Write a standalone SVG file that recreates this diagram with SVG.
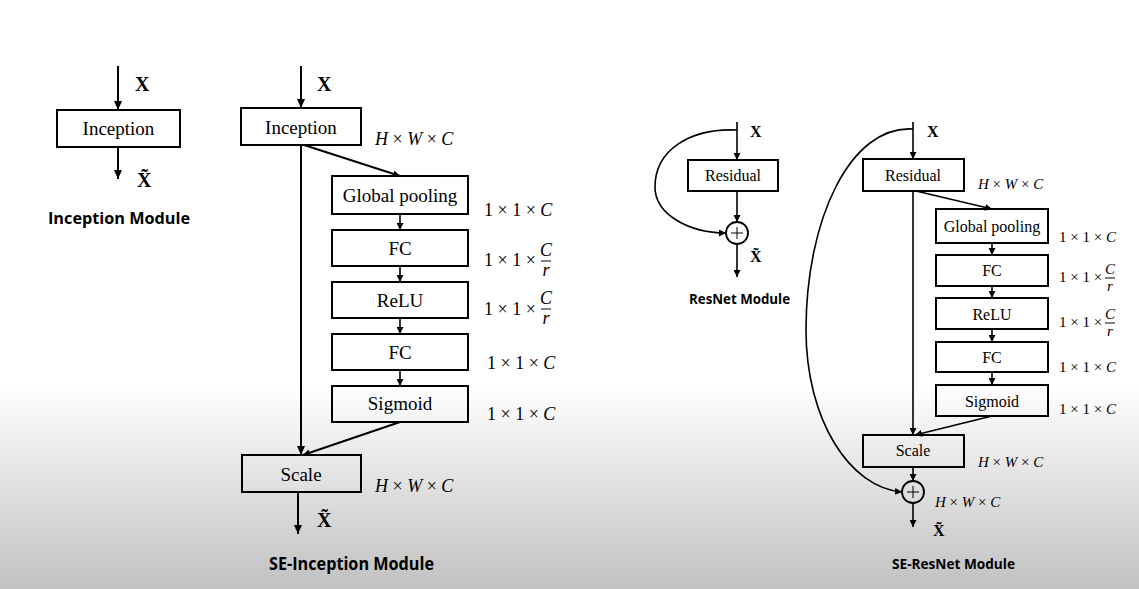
<svg xmlns="http://www.w3.org/2000/svg" width="1139" height="589" viewBox="0 0 1139 589">
<defs>
<linearGradient id="bg" x1="0" y1="385" x2="0" y2="589" gradientUnits="userSpaceOnUse">
<stop offset="0" stop-color="#ffffff"/>
<stop offset="1" stop-color="#c1c1c1"/>
</linearGradient>
<marker id="ah" markerWidth="10" markerHeight="8" refX="9" refY="4" orient="auto" markerUnits="userSpaceOnUse">
<path d="M0,0 L9,4 L0,8 z" fill="#000"/>
</marker>
<marker id="as" markerWidth="8" markerHeight="7" refX="7" refY="3.5" orient="auto" markerUnits="userSpaceOnUse">
<path d="M0,0 L7,3.5 L0,7 z" fill="#000"/>
</marker>
<style>
.box{fill:none;stroke:#000;stroke-width:2}
.ln{fill:none;stroke:#000;stroke-width:2}
.lns{fill:none;stroke:#000;stroke-width:1.6}
.lbl{font-family:"Liberation Serif",serif;fill:#000;text-anchor:middle}
.big{font-size:19px}
.sm{font-size:16px}
.dim{font-family:"Liberation Serif",serif;fill:#000}
.d18{font-size:18px}
.d15{font-size:15px}
.it{font-style:italic}
.bx{font-family:"Liberation Serif",serif;font-weight:bold;fill:#000}
.title{font-family:"Open Sans","Liberation Sans",sans-serif;font-weight:bold;fill:#000}
</style>
</defs>
<rect x="0" y="0" width="1139" height="589" fill="url(#bg)"/>

<!-- Inception Module -->
<g id="inception">
<rect class="box" x="57" y="110" width="123" height="37"/>
<text class="lbl big" x="118.5" y="135">Inception</text>
</g>
<g id="inception-labels">
<text class="bx" x="135" y="91" font-size="20">X</text>
<text class="bx" x="137" y="187" font-size="20">X̃</text>
<text class="title" x="48" y="224" font-size="16" textLength="142" lengthAdjust="spacingAndGlyphs">Inception Module</text>
</g>

<!-- SE-Inception Module -->
<g id="se-inception">
<rect class="box" x="241" y="108" width="120" height="37"/>
<text class="lbl big" x="301" y="134">Inception</text>
</g>
<g id="se-gp">
<rect class="box" x="332" y="176" width="136" height="38"/>
<text class="lbl big" x="400" y="202">Global pooling</text>
</g>
<g id="se-fc1">
<rect class="box" x="332" y="230" width="136" height="36"/>
<text class="lbl big" x="400" y="255">FC</text>
</g>
<g id="se-relu">
<rect class="box" x="332" y="282" width="136" height="36"/>
<text class="lbl big" x="400" y="307">ReLU</text>
</g>
<g id="se-fc2">
<rect class="box" x="332" y="334" width="136" height="36"/>
<text class="lbl big" x="400" y="359">FC</text>
</g>
<g id="se-sigmoid">
<rect class="box" x="332" y="386" width="136" height="36"/>
<text class="lbl big" x="400" y="410">Sigmoid</text>
</g>
<g id="se-scale">
<rect class="box" x="242" y="455" width="119" height="37"/>
<text class="lbl big" x="301" y="481">Scale</text>
</g>
<g id="se-inception-labels">
<text class="bx" x="317" y="91" font-size="20">X</text>
<text class="bx" x="317" y="527" font-size="20">X̃</text>
<text class="dim d18" x="375" y="145"><tspan class="it">H</tspan> × <tspan class="it">W</tspan> × <tspan class="it">C</tspan></text>
<text class="dim d18" x="484" y="216">1 × 1 × <tspan class="it">C</tspan></text>
<text class="dim d18" x="484" y="266">1 × 1 ×</text>
<text class="dim d18 it" x="546" y="256" text-anchor="middle">C</text>
<line x1="541" y1="261" x2="551" y2="261" stroke="#000" stroke-width="1"/>
<text class="dim d18 it" x="546" y="276" text-anchor="middle">r</text>
<text class="dim d18" x="484" y="315">1 × 1 ×</text>
<text class="dim d18 it" x="546" y="304" text-anchor="middle">C</text>
<line x1="541" y1="309" x2="551" y2="309" stroke="#000" stroke-width="1"/>
<text class="dim d18 it" x="546" y="324" text-anchor="middle">r</text>
<text class="dim d18" x="487" y="369">1 × 1 × <tspan class="it">C</tspan></text>
<text class="dim d18" x="487" y="420">1 × 1 × <tspan class="it">C</tspan></text>
<text class="dim d18" x="375" y="492"><tspan class="it">H</tspan> × <tspan class="it">W</tspan> × <tspan class="it">C</tspan></text>
<text class="title" x="269" y="570" font-size="17" textLength="165" lengthAdjust="spacingAndGlyphs">SE-Inception Module</text>
</g>

<!-- ResNet Module -->
<g id="resnet-residual">
<rect class="box" x="688" y="160" width="90" height="31"/>
<text class="lbl sm" x="733" y="181">Residual</text>
</g>
<g id="resnet-add">
<circle cx="737" cy="233" r="11" fill="none" stroke="#000" stroke-width="1.8"/>
<line x1="731" y1="233" x2="743" y2="233" stroke="#000" stroke-width="1"/>
<line x1="737" y1="227" x2="737" y2="239" stroke="#000" stroke-width="1"/>
</g>
<g id="resnet-labels">
<text class="bx" x="750" y="137" font-size="16">X</text>
<text class="bx" x="750" y="262" font-size="16">X̃</text>
<text class="title" x="689" y="304" font-size="14" textLength="101" lengthAdjust="spacingAndGlyphs">ResNet Module</text>
</g>

<!-- SE-ResNet Module -->
<g id="ser-residual">
<rect class="box" x="863" y="159" width="101" height="32"/>
<text class="lbl sm" x="913" y="181">Residual</text>
</g>
<g id="ser-gp">
<rect class="box" x="936" y="209" width="112" height="34"/>
<text class="lbl sm" x="992" y="232">Global pooling</text>
</g>
<g id="ser-fc1">
<rect class="box" x="936" y="255" width="112" height="31"/>
<text class="lbl sm" x="992" y="276">FC</text>
</g>
<g id="ser-relu">
<rect class="box" x="936" y="298" width="112" height="31"/>
<text class="lbl sm" x="992" y="320">ReLU</text>
</g>
<g id="ser-fc2">
<rect class="box" x="936" y="342" width="112" height="30"/>
<text class="lbl sm" x="992" y="363">FC</text>
</g>
<g id="ser-sigmoid">
<rect class="box" x="936" y="385" width="112" height="31"/>
<text class="lbl sm" x="992" y="407">Sigmoid</text>
</g>
<g id="ser-scale">
<rect class="box" x="863" y="435" width="101" height="32"/>
<text class="lbl sm" x="913" y="456">Scale</text>
</g>
<g id="ser-add">
<circle cx="913" cy="492" r="11" fill="none" stroke="#000" stroke-width="1.8"/>
<line x1="907" y1="492" x2="919" y2="492" stroke="#000" stroke-width="1"/>
<line x1="913" y1="486" x2="913" y2="498" stroke="#000" stroke-width="1"/>
</g>
<g id="ser-labels">
<text class="bx" x="927" y="137" font-size="16">X</text>
<text class="bx" x="933" y="536" font-size="16">X̃</text>
<text class="dim d15" x="978" y="189"><tspan class="it">H</tspan> × <tspan class="it">W</tspan> × <tspan class="it">C</tspan></text>
<text class="dim d15" x="1059" y="242">1 × 1 × <tspan class="it">C</tspan></text>
<text class="dim d15" x="1059" y="282">1 × 1 ×</text>
<text class="dim d15 it" x="1110" y="274" text-anchor="middle">C</text>
<line x1="1105" y1="278" x2="1115" y2="278" stroke="#000" stroke-width="1"/>
<text class="dim d15 it" x="1110" y="291" text-anchor="middle">r</text>
<text class="dim d15" x="1059" y="327">1 × 1 ×</text>
<text class="dim d15 it" x="1110" y="319" text-anchor="middle">C</text>
<line x1="1105" y1="323" x2="1115" y2="323" stroke="#000" stroke-width="1"/>
<text class="dim d15 it" x="1110" y="336" text-anchor="middle">r</text>
<text class="dim d15" x="1059" y="372">1 × 1 × <tspan class="it">C</tspan></text>
<text class="dim d15" x="1059" y="414">1 × 1 × <tspan class="it">C</tspan></text>
<text class="dim d15" x="978" y="467"><tspan class="it">H</tspan> × <tspan class="it">W</tspan> × <tspan class="it">C</tspan></text>
<text class="dim d15" x="935" y="507"><tspan class="it">H</tspan> × <tspan class="it">W</tspan> × <tspan class="it">C</tspan></text>
<text class="title" x="892" y="569" font-size="14" textLength="123" lengthAdjust="spacingAndGlyphs">SE-ResNet Module</text>
</g>

<g id="connectors">
<!-- Inception -->
<line class="ln" x1="118" y1="66" x2="118" y2="110" marker-end="url(#ah)"/>
<line class="ln" x1="118" y1="147" x2="118" y2="179" marker-end="url(#ah)"/>
<!-- SE-Inception -->
<line class="ln" x1="301" y1="66" x2="301" y2="108" marker-end="url(#ah)"/>
<line class="ln" x1="301" y1="145" x2="301" y2="455" marker-end="url(#ah)"/>
<line class="ln" x1="304" y1="145" x2="400" y2="176" marker-end="url(#as)"/>
<line class="lns" x1="400" y1="214" x2="400" y2="230" marker-end="url(#as)"/>
<line class="lns" x1="400" y1="266" x2="400" y2="282" marker-end="url(#as)"/>
<line class="lns" x1="400" y1="318" x2="400" y2="334" marker-end="url(#as)"/>
<line class="lns" x1="400" y1="370" x2="400" y2="386" marker-end="url(#as)"/>
<line class="ln" x1="400" y1="422" x2="303" y2="455" marker-end="url(#as)"/>
<line class="ln" x1="298" y1="492" x2="298" y2="534" marker-end="url(#ah)"/>
<!-- ResNet -->
<line class="lns" x1="737" y1="122" x2="737" y2="160" marker-end="url(#as)"/>
<line class="lns" x1="737" y1="191" x2="737" y2="222" marker-end="url(#as)"/>
<path class="lns" d="M737,130 C690,128 655,150 655,187 C655,215 690,233 726,233" marker-end="url(#as)"/>
<line class="lns" x1="737" y1="244" x2="737" y2="277" marker-end="url(#as)"/>
<!-- SE-ResNet -->
<line class="lns" x1="913" y1="122" x2="913" y2="159" marker-end="url(#as)"/>
<line class="lns" x1="913" y1="191" x2="913" y2="435" marker-end="url(#as)"/>
<line class="lns" x1="916" y1="191" x2="992" y2="209" marker-end="url(#as)"/>
<line class="lns" x1="992" y1="243" x2="992" y2="255" marker-end="url(#as)"/>
<line class="lns" x1="992" y1="286" x2="992" y2="298" marker-end="url(#as)"/>
<line class="lns" x1="992" y1="329" x2="992" y2="342" marker-end="url(#as)"/>
<line class="lns" x1="992" y1="372" x2="992" y2="385" marker-end="url(#as)"/>
<line class="lns" x1="992" y1="416" x2="915" y2="435" marker-end="url(#as)"/>
<line class="lns" x1="913" y1="467" x2="913" y2="481" marker-end="url(#as)"/>
<path class="lns" d="M913,129 C850,125 806,220 806,330 C806,420 850,488 902,492" marker-end="url(#as)"/>
<line class="lns" x1="913" y1="503" x2="913" y2="527" marker-end="url(#as)"/>
</g>
</svg>
